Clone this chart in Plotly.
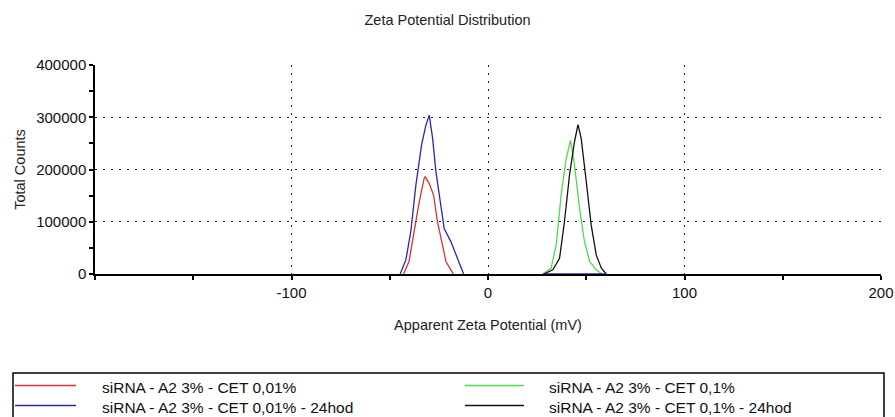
import plotly.graph_objects as go

# Series data (Apparent Zeta Potential in mV, Total Counts)
red_x = [-43.0, -40.2, -37.6, -35.0, -32.5, -32.0, -29.9, -27.7, -25.7, -23.1, -21.4, -18.9, -17.6]
red_y = [0, 24000, 81000, 138000, 183000, 186000, 173000, 151000, 100000, 55000, 24000, 8000, 0]

green_x = [27.9, 32.1, 34.7, 37.2, 39.8, 42.0, 44.0, 46.6, 49.1, 51.7, 55.1, 58.0]
green_y = [0, 11000, 55000, 151000, 221000, 256000, 209000, 126000, 62000, 24000, 8000, 0]

blue_x = [-44.7, -41.8, -39.3, -36.7, -33.8, -31.6, -29.9, -28.2, -26.5, -24.0, -22.3, -18.9, -15.5, -12.4,
          None, 28.0, 60.0]
blue_y = [0, 27000, 81000, 170000, 247000, 285000, 304000, 260000, 196000, 126000, 87000, 62000, 30000, 0,
          None, 0, 0]

black_x = [28.4, 33.0, 36.4, 38.9, 41.5, 44.0, 45.8, 47.4, 50.0, 52.5, 55.1, 57.7, 60.2]
black_y = [0, 8000, 30000, 100000, 190000, 253000, 286000, 260000, 177000, 94000, 36000, 11000, 0]

names = [
    "siRNA - A2 3% - CET 0,01%",
    "siRNA - A2 3% - CET 0,1%",
    "siRNA - A2 3% - CET 0,01% - 24hod",
    "siRNA - A2 3% - CET 0,1% - 24hod",
]
colors = ["#d83232", "#4cdc4c", "#2828b4", "#111111"]

x_tickvals = [-100, 0, 100, 200]
y_tickvals = [0, 100000, 200000, 300000, 400000]

FONT = "Liberation Sans, Arial, sans-serif"
W, H = 895, 417
L, R, T, B = 95, 14, 65, 143
PW, PH = W - L - R, H - T - B


def px_x(px):
    return (px - L) / PW


def px_y(py):
    return (H - B - py) / PH


fig = go.Figure()
for xs, ys, nm, col in zip([red_x, green_x, blue_x, black_x],
                           [red_y, green_y, blue_y, black_y], names, colors):
    fig.add_trace(go.Scatter(x=xs, y=ys, mode="lines", name=nm, showlegend=False,
                             line=dict(color=col, width=1.3), connectgaps=False))

fig.update_layout(
    width=W, height=H,
    margin=dict(l=L, r=R, t=T, b=B, autoexpand=False),
    paper_bgcolor="white", plot_bgcolor="white",
    font=dict(family=FONT, size=14.5, color="#222222"),
    title=dict(text="Zeta Potential Distribution", x=0.5, xanchor="center", xref="container",
               y=1 - 20 / H, yanchor="middle", font=dict(size=14.5, color="#222222")),
    xaxis=dict(
        range=[-200, 200], tickvals=x_tickvals, ticktext=[str(v) for v in x_tickvals],
        showgrid=True, gridcolor="#222222", griddash="2px,6px", gridwidth=1,
        showline=True, linecolor="black", linewidth=1.5,
        ticks="outside", ticklen=4, tickcolor="black", tickwidth=1.5,
        minor=dict(dtick=50, tick0=0, ticks="outside", ticklen=4, tickcolor="black",
                   tickwidth=1.5, showgrid=False),
        zeroline=False, layer="below traces",
        title=dict(text="Apparent Zeta Potential (mV)", standoff=20, font=dict(size=14.5)),
        tickfont=dict(size=15, color="#111111"),
    ),
    yaxis=dict(
        range=[0, 400000], tickvals=y_tickvals, ticktext=[str(v) for v in y_tickvals],
        showgrid=True, gridcolor="#222222", griddash="2px,6px", gridwidth=1,
        showline=True, linecolor="black", linewidth=1.5,
        ticks="outside", ticklen=4, tickcolor="black", tickwidth=1.5,
        minor=dict(dtick=50000, tick0=0, ticks="outside", ticklen=4, tickcolor="black",
                   tickwidth=1.5, showgrid=False),
        zeroline=False,
        title=dict(text="Total Counts", standoff=7, font=dict(size=14.5)),
        tickfont=dict(size=15, color="#111111"),
    ),
    showlegend=False,
)

# legend frame
fig.add_shape(type="rect", xref="paper", yref="paper",
              x0=px_x(13), x1=px_x(884), y0=px_y(425), y1=px_y(373),
              line=dict(color="black", width=1.5), fillcolor="rgba(0,0,0,0)")

# legend entries (two columns, row-major: red, green / blue, black)
col_line = [(15, 76), (465, 524)]
col_text = [100, 547]
row_line_y = [385.5, 405.5]
row_text_y = [387.5, 407.5]
for i, (nm, col) in enumerate(zip(names, colors)):
    r, c = divmod(i, 2)
    fig.add_shape(type="line", xref="paper", yref="paper",
                  x0=px_x(col_line[c][0]), x1=px_x(col_line[c][1]),
                  y0=px_y(row_line_y[r]), y1=px_y(row_line_y[r]),
                  line=dict(color=col, width=1.5))
    fig.add_annotation(text=nm, xref="paper", yref="paper", showarrow=False,
                       x=px_x(col_text[c]), y=px_y(row_text_y[r]),
                       xanchor="left", yanchor="middle",
                       font=dict(size=15.5, color="#111111", family=FONT))

fig.write_html("out.html")
